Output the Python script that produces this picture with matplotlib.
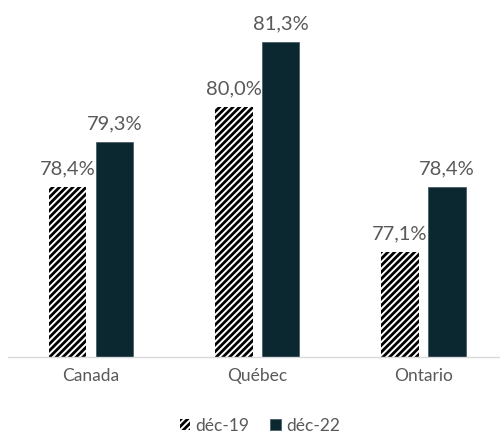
import matplotlib.pyplot as plt
import numpy as np

plt.rcParams['font.family'] = ['Lato', 'DejaVu Sans']
plt.rcParams['hatch.linewidth'] = 2.0

regions = ['Canada', 'Québec', 'Ontario']
dec19 = [78.4, 80.0, 77.1]
dec22 = [79.3, 81.3, 78.4]
series_names = ['déc-19', 'déc-22']

gray = '#595959'
dark = '#0b2730'

fig = plt.figure(figsize=(5, 4.37), dpi=100)
ax = fig.add_axes([8 / 500, 80 / 437, 492 / 500, 350 / 437])

x = np.arange(len(regions))
w = 0.225
off = 0.141
b1 = ax.bar(x - off, dec19, w, color='white', edgecolor='black', linewidth=0,
            hatch='/////', label=series_names[0])
b2 = ax.bar(x + off, dec22, w, color=dark, edgecolor='#4a5f66', linewidth=0.6,
            label=series_names[1])

for bars, vals in [(b1, dec19), (b2, dec22)]:
    for rect, v in zip(bars, vals):
        ax.text(rect.get_x() + rect.get_width() / 2, v + 0.2,
                f'{v:.1f}%'.replace('.', ','), ha='center', va='bottom',
                fontsize=14.5, color=gray)

ax.set_ylim(75, 82)
ax.set_xlim(-0.5, 2.46)
ax.set_xticks(x)
ax.set_xticklabels(regions, fontsize=12.5, color=gray)
ax.tick_params(axis='x', length=0, pad=8)
ax.set_yticks([])
for s in ['top', 'left', 'right']:
    ax.spines[s].set_visible(False)
ax.spines['bottom'].set_color('#d9d9d9')
ax.spines['bottom'].set_linewidth(1)

leg = fig.legend(loc='center', bbox_to_anchor=(0.52, 0.025), ncol=2, frameon=False,
                 fontsize=12.5, handlelength=0.6, handleheight=0.6,
                 handletextpad=0.3, columnspacing=1.2)
for t in leg.get_texts():
    t.set_color(gray)

fig.savefig('out.png', dpi=100)
